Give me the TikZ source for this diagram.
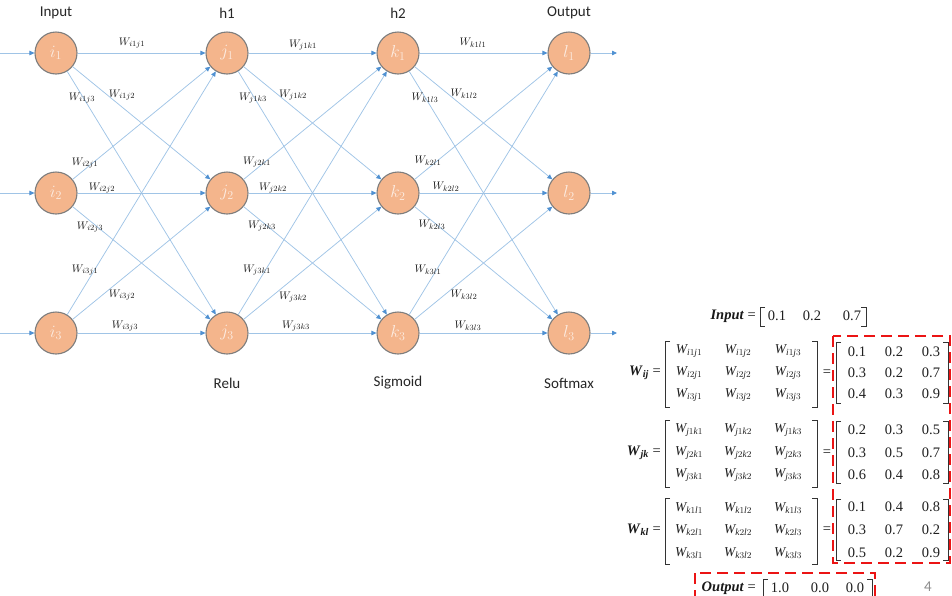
\documentclass[tikz,border=0pt]{standalone}
\usepackage{fontspec}
\setmainfont{Liberation Serif}
\newfontfamily\titlefont{Carlito}
\usetikzlibrary{arrows.meta}

\definecolor{peach}{RGB}{244,181,140}
\definecolor{ring}{RGB}{125,125,125}
\definecolor{wire}{RGB}{160,196,230}
\definecolor{tipblue}{RGB}{80,145,210}
\definecolor{dashred}{RGB}{235,20,20}

% square brackets of a matrix: x, top y, bottom y
\newcommand\openbr[3]{\draw[brk] (#1+5,#2) -- (#1,#2) -- (#1,#3) -- (#1+5,#3);}
\newcommand\closebr[3]{\draw[brk] (#1-5,#2) -- (#1,#2) -- (#1,#3) -- (#1-5,#3);}

\tikzset{
  neuron/.style={circle, draw=ring, line width=1.1pt, fill=peach, minimum size=42pt,
    inner sep=0pt, text=white, text opacity=0.75, font=\fontsize{17}{17}\selectfont},
  conn/.style={draw=wire, line width=0.75pt, -{Triangle[length=5pt,width=4.5pt,color=tipblue]}},
  wlabel/.style={font=\fontsize{11}{12}\selectfont, text=black!90, inner sep=1pt},
  title/.style={font=\titlefont\fontsize{15}{18}\selectfont, text=black!85},
  sym/.style={font=\fontsize{13.5}{15}\selectfont, text=black!88, inner sep=0pt},
  num/.style={font=\fontsize{14.5}{16}\selectfont, text=black!88, inner sep=0pt},
  lhs/.style={font=\fontsize{14.5}{16}\selectfont, text=black!90, inner sep=0pt},
  brk/.style={draw=black!80, line width=0.9pt},
  redbox/.style={draw=dashred, line width=1.8pt, dash pattern=on 11pt off 6pt},
}

\begin{document}
\begin{tikzpicture}[x=1pt,y=-1pt]
\clip (0,0) rectangle (952,595);

% ---- network ----
\foreach \n/\x in {i/56,j/227,k/398,l/569}
  \foreach \r/\y in {1/53,2/193,3/333}
    \node[neuron] (\n\r) at (\x,\y) {$\n_\r$};

\foreach \a/\b in {i/j,j/k,k/l}
  \foreach \p in {1,2,3}
    \foreach \q in {1,2,3}
      \draw[conn] (\a\p) -- (\b\q);

\foreach \r/\y in {1/53,2/193,3/333}{
  \coordinate (src\r) at (0,\y);
  \coordinate (dst\r) at (617,\y);
  \draw[conn] (src\r) -- (i\r);
  \draw[conn] (l\r) -- (dst\r);
}

\foreach \t/\x/\y in {
  i1j1/132/43, i1j2/122/95, i1j3/82/98, i2j1/85/163, i2j2/102/188,
  i2j3/90/227, i3j1/85/270, i3j2/122/295, i3j3/125/326,
  j1k1/303/45, j1k2/293/95, j1k3/253/98, j2k1/257/162, j2k2/273/188,
  j2k3/262/226, j3k1/257/270, j3k2/293/297, j3k3/296/326,
  k1l1/473/43, k1l2/464/94, k1l3/425/98, k2l1/428/161, k2l2/446/187,
  k2l3/432/225, k3l1/428/270, k3l2/464/295, k3l3/468/326}
  \node[wlabel] (w\t) at (\x,\y) {$W_{\t}$};

\node[title] (tin)  at (56,13)  {Input};
\node[title] (th1)  at (227,13) {h1};
\node[title] (th2)  at (398,13) {h2};
\node[title] (tout) at (569,13) {Output};
\node[title] (trelu) at (227,383) {Relu};
\node[title] (tsig)  at (398,383) {Sigmoid};
\node[title] (tsoft) at (569,383) {Softmax};

% ---- input vector ----
\node[lhs, anchor=east] (inlab) at (756,316) {\textbf{\textit{Input}} =};
\openbr{760}{307}{326}\closebr{866}{307}{326}
\node[num] (in1) at (777,316) {0.1};
\node[num] (in2) at (812,316) {0.2};
\node[num] (in3) at (852,316) {0.7};

% ---- weight matrices ----
\foreach \m/\s/\t/\ya/\yb/\yc/\top/\bot in {
  ij/i/j/351/373/395/341/407,
  jk/j/k/430/453/475/420/487,
  kl/k/l/508/530/553/498/564}{
  \node[lhs, anchor=east] (lab\m) at (661,\yb) {\textbf{\textit{W}}\textsubscript{\textbf{\textit{\m}}} =};
  \openbr{665}{\top}{\bot}\closebr{817}{\top}{\bot}
  \foreach \c/\x in {1/689,2/738,3/788}
    \foreach \r/\y in {1/\ya,2/\yb,3/\yc}
      \node[sym] (s\m\r\c) at (\x,\y) {$\mathit{W}_{\mathit{\s}\r\mathit{\t}\c}$};
  \node[lhs] (eq\m) at (827,\yb) {=};
  \openbr{836}{\top+1}{\bot-4}\closebr{948}{\top+1}{\bot-4}
}

\foreach \m/\r/\y/\a/\b/\c in {
  ij/1/352/0.1/0.2/0.3, ij/2/373/0.3/0.2/0.7, ij/3/394/0.4/0.3/0.9,
  jk/1/430/0.2/0.3/0.5, jk/2/453/0.3/0.5/0.7, jk/3/475/0.6/0.4/0.8,
  kl/1/507/0.1/0.4/0.8, kl/2/530/0.3/0.7/0.2, kl/3/553/0.5/0.2/0.9}{
  \node[num] (n\m\r1) at (857,\y) {\a};
  \node[num] (n\m\r2) at (894,\y) {\b};
  \node[num] (n\m\r3) at (931,\y) {\c};
}

% ---- output vector ----
\node[lhs, anchor=east] (outlab) at (756,588) {\textbf{\textit{Output}} =};
\openbr{763}{579}{598}\closebr{872}{579}{598}
\node[num] (out1) at (780,588) {1.0};
\node[num] (out2) at (820,588) {0.0};
\node[num] (out3) at (855,588) {0.0};

\draw[redbox] (833,336) rectangle (950,563);
\draw[redbox] (695,573) rectangle (875,605);

\node[title, text=black!45] (page) at (928,587) {4};
\end{tikzpicture}
\end{document}
